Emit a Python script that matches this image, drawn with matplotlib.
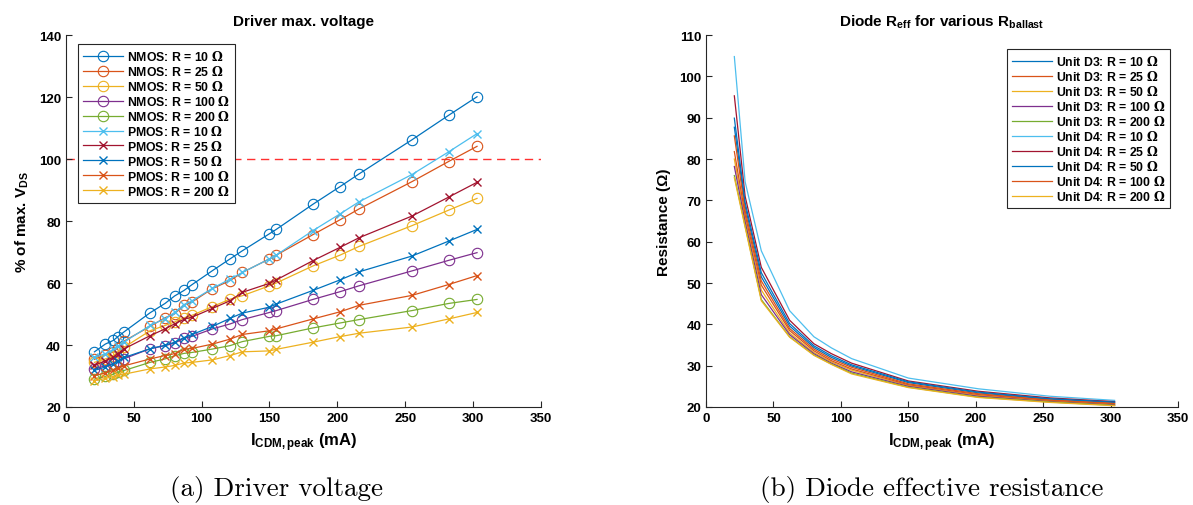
import matplotlib
matplotlib.use('Agg')
import matplotlib.pyplot as plt

plt.rcParams['font.family'] = ['Liberation Sans', 'DejaVu Sans']
plt.rcParams['font.weight'] = 'bold'
plt.rcParams['mathtext.fontset'] = 'custom'
plt.rcParams['mathtext.rm'] = 'DejaVu Serif'
plt.rcParams['mathtext.bf'] = 'Liberation Sans:bold'
plt.rcParams['mathtext.it'] = 'Liberation Sans:italic'

# MATLAB default colour order
c1, c2, c3, c4, c5, c6, c7 = '#0072BD', '#D95319', '#EDB120', '#7E2F8E', '#77AC30', '#4DBEEE', '#A2142F'

# ---- (a) driver voltage data ----
i_peak = [21, 29, 35, 38, 43, 62, 73, 80, 87, 93, 108, 121, 130, 150, 155, 182, 202, 216, 255, 282, 303]

nmos_10 = [37.8, 40.3, 41.5, 42.6, 44.3, 50.4, 53.4, 55.8, 57.6, 59.5, 64.0, 67.8, 70.4, 75.9, 77.3, 85.4, 91.1, 95.2, 106.2, 114.1, 120.1]
nmos_25 = [35.4, 36.7, 37.8, 39.0, 41.3, 46.0, 48.8, 50.0, 53.0, 53.9, 58.2, 60.8, 63.4, 67.8, 69.0, 75.6, 80.4, 83.9, 92.7, 99.2, 104.1]
nmos_50 = [34.4, 35.5, 36.6, 37.8, 39.3, 44.6, 46.3, 47.4, 48.8, 49.6, 52.4, 54.8, 55.9, 59.1, 60.0, 65.5, 69.0, 71.8, 78.5, 83.5, 87.3]
nmos_100 = [32.3, 33.3, 34.0, 34.8, 35.6, 38.8, 39.8, 40.6, 42.2, 42.8, 45.2, 46.8, 48.2, 50.5, 51.1, 54.7, 57.2, 59.1, 63.9, 67.3, 69.8]
nmos_200 = [29.0, 29.9, 30.6, 31.2, 31.8, 34.4, 35.5, 36.5, 37.3, 37.6, 38.7, 39.8, 41.1, 42.8, 43.0, 45.5, 47.1, 48.2, 51.1, 53.4, 54.7]
pmos_10 = [36.0, 37.2, 38.6, 39.6, 41.0, 46.3, 48.5, 50.5, 53.0, 54.3, 58.3, 61.3, 63.4, 67.8, 69.0, 76.9, 82.3, 86.2, 95.0, 102.3, 108.2]
pmos_25 = [33.4, 34.9, 36.0, 37.2, 38.8, 43.0, 45.2, 46.8, 48.3, 49.0, 51.8, 54.3, 57.0, 59.9, 61.0, 67.2, 71.5, 74.6, 81.6, 87.7, 92.5]
pmos_50 = [31.8, 32.9, 33.9, 34.8, 36.0, 38.8, 39.9, 40.9, 42.4, 43.4, 46.0, 48.6, 50.3, 52.2, 53.2, 57.6, 61.0, 63.6, 68.7, 73.5, 77.3]
pmos_100 = [30.1, 31.0, 31.8, 32.5, 33.3, 35.5, 36.6, 37.2, 38.6, 38.9, 40.3, 41.9, 43.4, 44.6, 45.2, 48.4, 50.7, 52.8, 56.0, 59.5, 62.4]
pmos_200 = [28.5, 29.2, 29.8, 30.2, 30.6, 32.3, 32.9, 33.4, 34.2, 34.4, 35.2, 36.6, 37.8, 38.1, 38.6, 40.9, 42.7, 43.8, 45.8, 48.4, 50.5]

# ---- (b) diode effective resistance data ----
i_peak_b = [21, 29, 41, 62, 80, 93, 108, 150, 202, 255, 303]

d3_10 = [87.7, 68.5, 51.5, 39.6, 34.4, 32.0, 29.9, 25.9, 23.4, 21.9, 21.1]
d3_25 = [85.6, 67.5, 50.5, 39.0, 34.0, 31.6, 29.6, 25.6, 23.2, 21.7, 20.9]
d3_50 = [80.0, 65.5, 48.3, 37.9, 33.2, 30.9, 28.9, 25.2, 22.8, 21.4, 20.6]
d3_100 = [78.2, 64.8, 47.2, 37.5, 32.9, 30.6, 28.5, 25.0, 22.6, 21.3, 20.5]
d3_200 = [76.0, 63.8, 46.0, 37.0, 32.6, 30.4, 28.2, 24.8, 22.4, 21.2, 20.4]
d4_10 = [104.8, 74.5, 57.8, 43.3, 37.0, 34.3, 31.7, 27.0, 24.4, 22.6, 21.6]
d4_25 = [95.3, 71.0, 53.8, 41.0, 35.3, 32.9, 30.6, 26.3, 23.8, 22.2, 21.3]
d4_50 = [89.9, 69.5, 52.5, 40.2, 34.8, 32.4, 30.2, 26.1, 23.6, 22.0, 21.2]
d4_100 = [81.8, 66.5, 49.5, 38.5, 33.6, 31.2, 29.2, 25.4, 23.0, 21.6, 20.8]
d4_200 = [75.5, 63.5, 45.7, 36.9, 32.5, 30.3, 28.0, 24.7, 22.3, 21.1, 20.3]

r_labels = ['10', '25', '50', '100', '200']


def style_axes(ax):
    ax.spines['top'].set_visible(False)
    ax.spines['right'].set_visible(False)
    for s in ('left', 'bottom'):
        ax.spines[s].set_color('#262626')
        ax.spines[s].set_linewidth(0.8)
    ax.tick_params(direction='in', length=4, width=0.8, color='#262626', labelsize=9.5)
    for lab in ax.get_xticklabels() + ax.get_yticklabels():
        lab.set_fontweight('bold')


def make_legend(ax, loc, anchor):
    leg = ax.legend(loc=loc, bbox_to_anchor=anchor, borderaxespad=0,
                    handlelength=3.3, labelspacing=0.08, borderpad=0.4, handletextpad=0.3,
                    fancybox=False, framealpha=1, edgecolor='#262626',
                    prop={'weight': 'bold', 'size': 8.8})
    leg.get_frame().set_linewidth(0.8)
    return leg


fig = plt.figure(figsize=(11.93, 5.06), dpi=100)
ax1 = fig.add_axes([0.0553, 0.1937, 0.398, 0.735])
ax2 = fig.add_axes([0.5918, 0.1937, 0.3956, 0.735])

# left panel
nmos = [nmos_10, nmos_25, nmos_50, nmos_100, nmos_200]
pmos = [pmos_10, pmos_25, pmos_50, pmos_100, pmos_200]
nmos_cols = [c1, c2, c3, c4, c5]
pmos_cols = [c6, c7, c1, c2, c3]

ax1.axhline(100, color='#FF3030', lw=1.0, dashes=(6, 4), zorder=1)
for y, col, r in zip(nmos, nmos_cols, r_labels):
    ax1.plot(i_peak, y, color=col, lw=0.9, marker='o', ms=7.5, mfc='none', mew=0.8,
             label=r'NMOS: R = ' + r + r' $\mathrm{\Omega}$')
for y, col, r in zip(pmos, pmos_cols, r_labels):
    ax1.plot(i_peak, y, color=col, lw=0.9, marker='x', ms=5.5, mew=1.0,
             label=r'PMOS: R = ' + r + r' $\mathrm{\Omega}$')

ax1.set_xlim(0, 350)
ax1.set_ylim(20, 140)
ax1.set_xticks(range(0, 351, 50))
ax1.set_yticks(range(20, 141, 20))
style_axes(ax1)
ax1.set_title('Driver max. voltage', fontsize=11, fontweight='bold', pad=7)
ax1.set_xlabel(r'$\mathbf{I_{CDM,peak}}$ (mA)', fontsize=12, fontweight='bold', labelpad=5)
ax1.set_ylabel(r'% of max. $\mathbf{V_{DS}}$', fontsize=11, fontweight='bold', labelpad=6)
make_legend(ax1, 'upper left', (0.025, 0.976))

# right panel
d3 = [d3_10, d3_25, d3_50, d3_100, d3_200]
d4 = [d4_10, d4_25, d4_50, d4_100, d4_200]
for y, col, r in zip(d3, nmos_cols, r_labels):
    ax2.plot(i_peak_b, y, color=col, lw=0.9, label=r'Unit D3: R = ' + r + r' $\mathrm{\Omega}$')
for y, col, r in zip(d4, pmos_cols, r_labels):
    ax2.plot(i_peak_b, y, color=col, lw=0.9, label=r'Unit D4: R = ' + r + r' $\mathrm{\Omega}$')

ax2.set_xlim(0, 350)
ax2.set_ylim(20, 110)
ax2.set_xticks(range(0, 351, 50))
ax2.set_yticks(range(20, 111, 10))
style_axes(ax2)
ax2.set_title(r'Diode $\mathbf{R_{eff}}$ for various $\mathbf{R_{ballast}}$', fontsize=11,
              fontweight='bold', pad=7)
ax2.set_xlabel(r'$\mathbf{I_{CDM,peak}}$ (mA)', fontsize=12, fontweight='bold', labelpad=5)
ax2.set_ylabel('Resistance (Ω)', fontsize=11, fontweight='bold', labelpad=6)
make_legend(ax2, 'upper right', (0.983, 0.962))

# sub-figure captions
fig.text(276 / 1193, 1 - 490 / 506, '(a) Driver voltage', family='cmr10', fontsize=19.5,
         fontweight='normal', ha='center', va='center')
fig.text(932 / 1193, 1 - 490 / 506, '(b) Diode effective resistance', family='cmr10', fontsize=19.5,
         fontweight='normal', ha='center', va='center')

fig.savefig('out.png', dpi=100)
